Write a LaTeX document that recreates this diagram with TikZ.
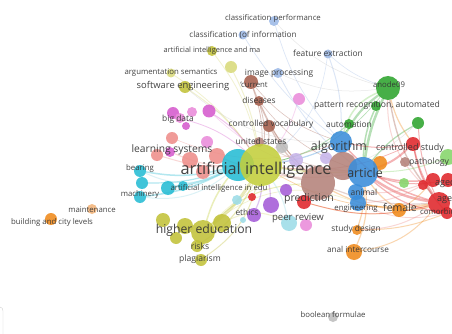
\documentclass[tikz,border=0pt]{standalone}
\usepackage{fontspec}
\setmainfont{Open Sans}
\usepackage{xcolor}
\usepackage{tikz}
\usetikzlibrary{positioning,backgrounds}
\definecolor{nodeyellow}{HTML}{C3CF3C}
\definecolor{nodeolive}{HTML}{C2C23A}
\definecolor{nodepale}{HTML}{D9DA7A}
\definecolor{nodecyan}{HTML}{26BCD4}
\definecolor{nodelightcyan}{HTML}{9CDCE8}
\definecolor{nodesalmon}{HTML}{EE8E8A}
\definecolor{nodemagenta}{HTML}{D65ACD}
\definecolor{nodepink}{HTML}{EA8CDA}
\definecolor{nodebrown}{HTML}{A45E4C}
\definecolor{nodemauve}{HTML}{B4827A}
\definecolor{nodeblue}{HTML}{3A8DDA}
\definecolor{nodelightblue}{HTML}{9DB9E6}
\definecolor{nodegreen}{HTML}{2EA52E}
\definecolor{nodelightgreen}{HTML}{86D66A}
\definecolor{nodered}{HTML}{E0262B}
\definecolor{nodeorange}{HTML}{F08A1C}
\definecolor{nodelightorange}{HTML}{F3B57A}
\definecolor{nodepurple}{HTML}{A45CD8}
\definecolor{nodelavender}{HTML}{C6B4EA}
\definecolor{nodegray}{HTML}{BDBDBD}
\definecolor{labelgray}{HTML}{333333}
\tikzset{
  bubble/.style={circle,inner sep=0pt,fill opacity=0.88,draw=none},
  lbl/.style={text=labelgray,inner sep=0pt,text opacity=0.92},
  link/.style={opacity=0.35,line cap=round}
}
\begin{document}
\begin{tikzpicture}[x=1pt,y=-1pt]
\useasboundingbox (0,0) rectangle (452,334);
% bubbles
\foreach \n/\x/\y/\r/\c in {
  classperf/274/21/5/nodelightblue, classinfo/243/35/4.5/nodelightblue,
  aiandma/212/51/5/nodeolive, featext/328/54/4.5/nodelightblue,
  argsem/171/73/4.5/nodepale, yelone/231/67/6/nodepale,
  imgproc/278/73/5/nodelightblue, softeng/185/87/6/nodeolive,
  current/251/82/7/nodebrown, diseases/259/101/5/nodebrown,
  pinkone/299/99/6/nodepink,
  bdone/173/113/6/nodemagenta, bdtwo/192/112/5/nodepink, bdthree/209/111/6.5/nodemagenta,
  bdfour/186/126/4/nodemagenta, bigdata/180/118/5/nodepink,
  ctrlvoc/269/126/6/nodebrown, automation/349/124/5/nodegreen,
  patrec/376/106/5/nodegreen, anode/388/88/12/nodegreen, greentwo/418/123/6/nodegreen,
  usa/259/142/5/nodemauve, grayone/282/147/6/nodegray,
  lavone/296/160/7/nodelavender, lavtwo/326/158/6/nodelavender,
  algorithm/341/142/11/nodeblue, ctrlstudy/413/144/7/nodered,
  pathology/405/162/5/nodemauve, greenthree/448/157/8/nodelightgreen,
  lsone/172/138/6/nodesalmon, lstwo/207/142/6/nodepink, lsthree/157/155/6/nodesalmon,
  lsfour/217/156/8/nodesalmon, learnsys/170/152/5/nodemagenta,
  lsfive/190/160/8/nodesalmon, lssix/203/172/7/nodesalmon,
  aicy/238/165/16/nodecyan, ai/261/165/21/nodeyellow,
  argray/343/166/14/nodemauve, arbrown/318/183/17/nodemauve,
  orangeone/380/163/7/nodeorange, article/363/172/15/nodeblue,
  animal/356/192/8/nodeblue, prediction/304/202/7/nodered,
  engineering/358/203/8/nodeblue, female/399/210/7/nodeorange,
  purpletwo/271/205/8/nodepurple, purplethree/286/190/6/nodepurple, ethics/254/215/7/nodepurple,
  peerrev/289/223/8/nodelightcyan, pinktwo/306/225/6/nodepink,
  studydes/357/230/5/nodeorange, analint/354/252/8/nodeorange,
  boolean/333/317/5/nodegray,
  redtwo/423/185/5/nodered, aged/433/180/7/nodered, redfour/448/180/7/nodered,
  age/439/203/11/nodered, comorb/447/213/6/nodered, lgreen/404/183/5/nodelightgreen,
  bearing/140/171/6/nodecyan, cytwo/142/183/6/nodecyan, machinery/140/197/6/nodecyan,
  aiedu/168/188/7/nodecyan, cythree/183/186/5/nodecyan,
  lcone/237/200/5/nodelightcyan, lctwo/243/220/3/nodelightcyan, redsmall/252/197/4/nodered,
  maintenance/92/209/5/nodelightorange, building/51/219/6/nodeorange,
  heone/163/220/7/nodeolive, hetwo/185/226/8/nodeolive, higher/203/232/12/nodeolive,
  hethree/222/223/9/nodeolive, hefour/176/238/6/nodeolive,
  risks/197/246/6/nodeolive, plagiarism/201/260/6/nodeolive}
  \node[bubble,fill=\c,minimum size=2*\r] (\n) at (\x,\y) {};
% links
\begin{scope}[on background layer]
\fill[white] (0,0) rectangle (452,334);
\draw[gray!35] (0,307) to[out=0,in=90] (3,311) -- (3,334);
\foreach \a/\b/\c/\w/\k in {
  anode/algorithm/nodegreen/2.2/-12, anode/article/nodegreen/2.5/-8, patrec/article/nodegreen/1.5/-10,
  anode/ai/nodegreen/0.6/18, automation/ai/nodegreen/0.8/12, greentwo/article/nodegreen/1.2/-10,
  anode/age/nodebrown/1.4/-15, anode/ctrlstudy/nodeorange/1.2/-10, greentwo/age/nodered/1/-10,
  anode/algorithm/nodelightgreen/1.5/-25, anode/redtwo/nodesalmon/1/-22,
  ctrlstudy/article/nodered/2/12, age/article/nodered/2.5/12, age/algorithm/nodered/1.5/15,
  aged/article/nodered/1.5/10, age/female/nodeorange/1.5/10, age/engineering/nodeorange/1.2/10,
  female/article/nodeorange/1.2/10, comorb/studydes/nodeorange/1/10, age/analint/nodeorange/1/20,
  ctrlstudy/ai/nodered/0.7/15, age/ai/nodeorange/0.8/18, age/prediction/nodeorange/1/15,
  arbrown/female/nodeorange/1.2/-10, article/analint/nodeorange/1.2/15, article/studydes/nodeorange/1.2/10,
  arbrown/age/nodemauve/1.2/-12, ctrlstudy/algorithm/nodered/1/10, redfour/article/nodered/1/14,
  greenthree/article/nodelightgreen/1/10, comorb/article/nodered/1.2/16, aged/female/nodeorange/1/8,
  ctrlstudy/age/nodered/1.5/-10, ctrlstudy/comorb/nodered/1.2/-15, redtwo/engineering/nodesalmon/1/12,
  age/studydes/nodesalmon/1/15, comorb/engineering/nodesalmon/0.8/18, aged/animal/nodesalmon/1/12,
  ai/higher/nodeolive/3/10, aicy/higher/nodeyellow/1.5/-10, ai/risks/nodeolive/1.2/15, ai/plagiarism/nodeolive/1/20,
  ai/softeng/nodepale/1/-10, ai/aiandma/nodepale/0.8/-12, ai/argsem/nodepale/0.8/-10, ai/yelone/nodepale/1/-8,
  hethree/peerrev/nodepale/1/25, higher/engineering/nodepale/0.7/30,
  aicy/bearing/nodecyan/1.5/12, aicy/machinery/nodecyan/1.5/10, aicy/aiedu/nodecyan/2/8, aicy/cytwo/nodecyan/1.2/10,
  aicy/bearing/nodelightcyan/1/25, aicy/machinery/nodelightcyan/1/22,
  ai/lsfour/nodesalmon/1.5/10, ai/learnsys/nodesalmon/1/12, ai/lsthree/nodesalmon/1/10,
  ai/bdthree/nodemagenta/1/-10, ai/bigdata/nodemagenta/0.8/-12, ai/pinkone/nodepink/0.8/-10,
  ai/current/nodebrown/0.8/-10, ai/diseases/nodebrown/0.8/-10, ai/ctrlvoc/nodebrown/1/-8, ai/usa/nodebrown/1/-8,
  arbrown/current/nodebrown/1/12, arbrown/ctrlvoc/nodebrown/1.2/10, arbrown/diseases/nodebrown/0.8/10,
  current/algorithm/nodebrown/0.6/-15, diseases/article/nodebrown/0.6/-15, usa/article/nodemauve/0.8/-12,
  article/imgproc/nodelightblue/0.8/12, algorithm/featext/nodelightblue/1/-10, algorithm/classperf/nodelightblue/0.7/12,
  algorithm/classinfo/nodelightblue/0.7/10, ai/featext/nodelightblue/0.6/-20, featext/anode/nodelightblue/0.6/-10,
  imgproc/anode/nodegray/0.5/-15, classperf/anode/nodegray/0.5/-15,
  ai/ethics/nodepurple/1.2/10, ai/purpletwo/nodepurple/1.2/8, ai/peerrev/nodelightcyan/1.2/10,
  higher/arbrown/nodeyellow/1/20, higher/article/nodepale/0.7/25, ai/article/nodeyellow/1.5/-5,
  softeng/algorithm/nodegray/0.5/-20, ai/greentwo/nodegray/0.5/-25, lsfour/article/nodesalmon/0.8/-15,
  lsone/algorithm/nodesalmon/0.6/-20, bdthree/article/nodepink/0.6/-20,
  ai/arbrown/nodemauve/2/-5, ai/algorithm/nodeblue/1.2/-8, prediction/age/nodered/0.8/-15}
  \draw[link,draw=\c,line width=\w] (\a) to[bend left=\k] (\b);
\end{scope}
% labels
\foreach \x/\y/\s/\t [count=\i] in {
  273/18/7.8/classification performance, 243/35/8.1/classification (of information,
  212/51/7.4/artificial intelligence and ma, 328/53/8.4/feature extraction,
  171/73/7.8/argumentation semantics, 279/73/8.4/image processing,
  183/86/9.4/software engineering, 254/85/7.8/`current, 259/100/8.4/diseases,
  178/119/8.4/big data, 271/124/8.4/controlled vocabulary, 349/124/8.4/automation,
  {377/105/8.6/pattern recognition, automated}, 389/85/7.8/anode09,
  261/141/8.4/united states, 339/147/12.4/algorithm, 410/148/9/controlled study,
  429/162/8.6/pathology, 172/150/10.3/learning systems,
  256/170/16.3/artificial intelligence, 365/173/12.4/article,
  364/192/8.4/animal, 309/199/10.5/prediction, 140/168/7.8/bearing,
  140/194/7.8/machinery, 219/188/7.8/artificial intelligence in edu,
  356/209/7.8/engineering, 400/208/10.5/female, 247/212/8.4/ethics,
  298/218/9.6/peer review, 356/229/8.4/study design, 358/249/8.2/anal intercourse,
  92/210/7.8/maintenance, 52/222/7.8/building and city levels,
  204/230/12.2/higher education, 200/246/8.6/risks, 200/259/8.6/plagiarism,
  333/315/7.8/boolean formulae}
  \node[lbl,font=\fontsize{\s}{\s}\selectfont] (t\i) at (\x,\y) {\t};
% labels cut by the right edge
\foreach \x/\y/\s/\t [count=\i] in {435/183/9/aged, 437/200/9/age, 420/212/7.8/comorbidity}
  \node[lbl,anchor=west,font=\fontsize{\s}{\s}\selectfont] (e\i) at (\x,\y) {\t};
\end{tikzpicture}
\end{document}
